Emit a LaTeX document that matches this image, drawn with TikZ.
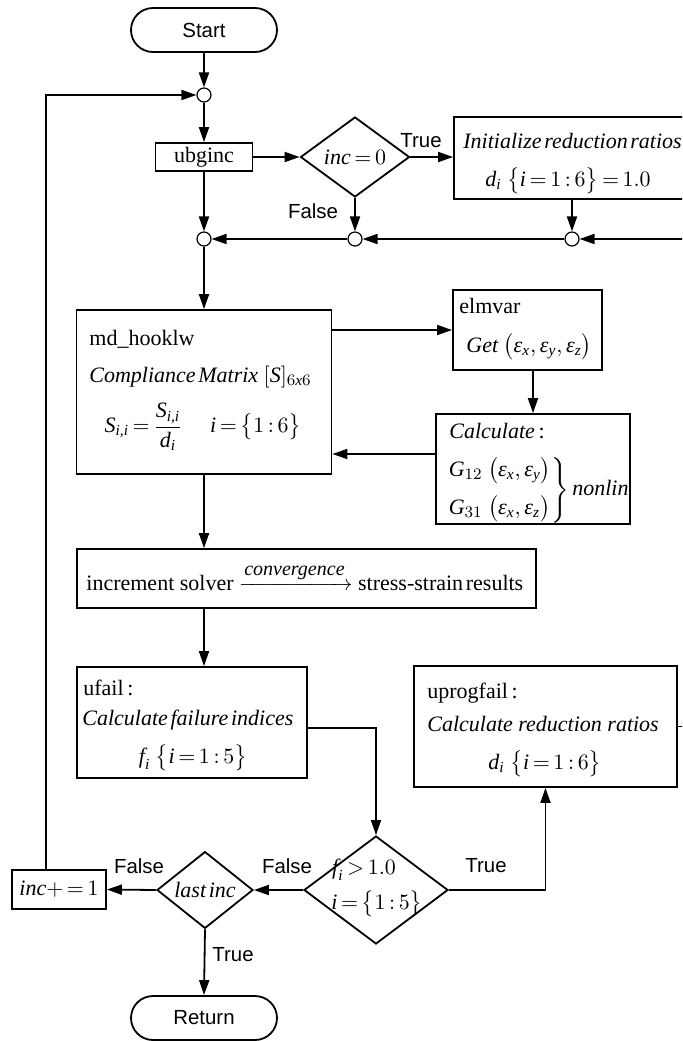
\documentclass[tikz,border=0pt]{standalone}
\usepackage{amsmath}
\usepackage{fontspec}
\setmainfont{Liberation Serif}
\newfontfamily\labelfont{Liberation Sans}
\usetikzlibrary{arrows.meta,shapes.geometric,calc}

% italic variable names set in the text face
\newcommand\itx[1]{\textit{#1}}
\newcommand\epsl{\textit{ε}}
\newcommand\tsp{\hspace{0.12em}}
% tighter spacing around relations in the small formulas
\AtBeginDocument{\thickmuskip=3mu plus 1mu\medmuskip=2mu plus 1mu}

\begin{document}
\begin{tikzpicture}[x=0.5pt,y=-0.5pt,
  serif/.style={font=\fontsize{11}{13}\selectfont},
  proc/.style={draw, rectangle, line width=0.9pt, inner sep=0pt, serif},
  term/.style={draw, rectangle, rounded corners=11pt, line width=0.9pt,
    minimum width=73pt, minimum height=22pt, inner sep=0pt,
    font=\labelfont\fontsize{10.2}{12}\selectfont},
  dec/.style={draw, diamond, line width=0.9pt, inner sep=0pt, serif},
  junc/.style={draw, circle, minimum size=7pt, inner sep=0pt,
    line width=0.6pt, fill=white},
  flow/.style={line width=0.9pt, -{Triangle[length=7.5pt,width=5pt]}},
  lab/.style={inner sep=0pt, font=\labelfont\fontsize{10.2}{12}\selectfont},
  txt/.style={inner sep=0pt, serif}]

\useasboundingbox (0,0) rectangle (682,1041);
\clip (0,0) rectangle (682,1041);

% ---------- top: start, increment begin, initialisation ----------
\node[term] (start) at (204,30) {Start};
\node[junc] (c1) at (204,95) {};
\node[proc, minimum width=48.5pt, minimum height=14pt] (ubg) at (204,157) {ubginc};
\node[dec, minimum width=54.5pt, minimum height=40pt] (d0) at (355,157) {$\itx{inc}=0$};
\node[proc, minimum width=123pt, minimum height=41pt] (init) at (577,158) {};
\node[txt, anchor=base west] (initA) at (463,148)
  {\itx{Initialize\tsp reduction\tsp ratios}};
\node[txt] (initB) at (568,181)
  {$\itx{d}_{\itx{i}}\ \bigl\{\itx{i}=1:6\bigr\}=1.0$};

\node[junc] (c0) at (204,239) {};
\node[junc] (c2) at (355,239) {};
\node[junc] (c3) at (572,239) {};
\coordinate (rt) at (700,0);
\coordinate (lp) at (46,0);

\node[lab] (lTrue1) at (421,141) {True};
\node[lab] (lFalse1) at (313,211) {False};

% ---------- material subroutines ----------
\node[proc, minimum width=127.5pt, minimum height=82pt] (md) at (204,392) {};
\node[txt, anchor=base west] (mdA) at (89,345) {md\_hooklw};
\node[txt, anchor=base west] (mdB) at (89,382)
  {\itx{Compliance\tsp Matrix} $[\itx{S}]_{6\itx{x}6}$};
\node[txt] (mdC) at (203,427)
  {$\itx{S}_{\itx{i,i}}=\dfrac{\itx{S}_{\itx{i,i}}}{\itx{d}_{\itx{i}}}
    \quad\ \itx{i}=\bigl\{1:6\bigr\}$};

\node[proc, minimum width=74.5pt, minimum height=40pt] (elm) at (527.5,330) {};
\node[txt, anchor=base west] (elmA) at (459,313) {elmvar};
\node[txt, anchor=west] (elmB) at (466,347)
  {$\itx{Get}\ \bigl(\epsl_{\itx{x}},\epsl_{\itx{y}},\epsl_{\itx{z}}\bigr)$};

\node[proc, minimum width=97pt, minimum height=55pt] (calc) at (533,469) {};
\node[txt, anchor=base west] (calcA) at (449,438) {\itx{Calculate}\,:};
\node[txt, anchor=west] (calcB) at (446,490)
  {$\left.\begin{array}{@{}l@{}}
     \itx{G}_{12}\ \bigl(\epsl_{\itx{x}},\epsl_{\itx{y}}\bigr)\\[6pt]
     \itx{G}_{31}\ \bigl(\epsl_{\itx{x}},\epsl_{\itx{z}}\bigr)
   \end{array}\right\}\itx{nonlin}$};

% ---------- solver ----------
\node[proc, minimum width=229.5pt, minimum height=29.5pt] (incr) at (306.5,578.5) {};
\node[txt, anchor=base west] (incrT) at (86,590)
  {increment solver
   $\xrightarrow{\mbox{\fontsize{10}{12}\selectfont\itx{convergence}}}$
   stress-strain\tsp results};

% ---------- failure evaluation ----------
\node[proc, minimum width=115pt, minimum height=55.5pt] (ufail) at (192,722.5) {};
\node[txt, anchor=base west] (ufA) at (83,695) {ufail\,:};
\node[txt, anchor=base west] (ufB) at (82,725) {\itx{Calculate\tsp failure\tsp indices}};
\node[txt] (ufC) at (193,758) {$\itx{f}_{\itx{i}}\ \bigl\{\itx{i}=1:5\bigr\}$};

\node[proc, minimum width=131.5pt, minimum height=60.5pt] (uprog) at (545.5,726.5) {};
\node[txt, anchor=base west] (upA) at (427,698) {uprogfail\,:};
\node[txt, anchor=base west] (upB) at (427,731) {\itx{Calculate reduction ratios}};
\node[txt] (upC) at (545,764) {$\itx{d}_{\itx{i}}\ \bigl\{\itx{i}=1:6\bigr\}$};

\node[dec, minimum width=72pt, minimum height=54pt] (fi) at (376,890) {};
\node[txt] (fiA) at (364,870) {$\itx{f}_{\itx{i}}>1.0$};
\node[txt] (fiB) at (377,904) {$\itx{i}=\bigl\{1:5\bigr\}$};

\node[dec, minimum width=48pt, minimum height=35.5pt] (last) at (205,890) {\itx{last\tsp inc}};
\node[proc, minimum width=47pt, minimum height=19.5pt] (incp) at (59,889.5) {$\itx{inc}{+}=1$};
\node[term] (ret) at (204,1018) {Return};

\node[lab] (lFalse2) at (139,866) {False};
\node[lab] (lFalse3) at (287,866) {False};
\node[lab] (lTrue2) at (486,866) {True};
\node[lab] (lTrue3) at (233,955) {True};

% ---------- connectors ----------
\draw[flow] (start) -- (c1);
\draw[flow] (c1) -- (ubg);
\draw[flow] (ubg) -- (d0);
\draw[flow] (d0.east) -- (d0.east -| init.west);
\draw[flow] (ubg) -- (c0);
\draw[flow] (d0.south) -- (c2);
\draw[flow] (init.south -| c3) -- (c3);
\draw[flow] (c3) -- (c2);
\draw[flow] (c2) -- (c0);
\draw[flow] (uprog.east) -| (rt |- c3) -- (c3);
\draw[flow] (c0) -- (md);
\draw[flow] (md.east |- elm.west) -- (elm.west);
\draw[flow] (elm.south -| calc.north) -- (calc.north);
\draw[flow] ([yshift=7.5pt]calc.west) -- ([yshift=7.5pt]calc.west -| md.east);
\draw[flow] (md.south) -- (md.south |- incr.north);
\draw[flow] (md.south |- incr.south) -- (md.south |- ufail.north);
\draw[flow] ([yshift=-2.75pt]ufail.east) -| (fi.north);
\draw[flow] (fi.east) -| (uprog.south);
\draw[flow] (fi.west) -- (last.east);
\draw[flow] (last.west) -- (incp.east);
\draw[flow] (last.south) -- (ret.north);
\draw[flow] (lp |- incp.north) |- (c1.west);
\end{tikzpicture}
\end{document}
